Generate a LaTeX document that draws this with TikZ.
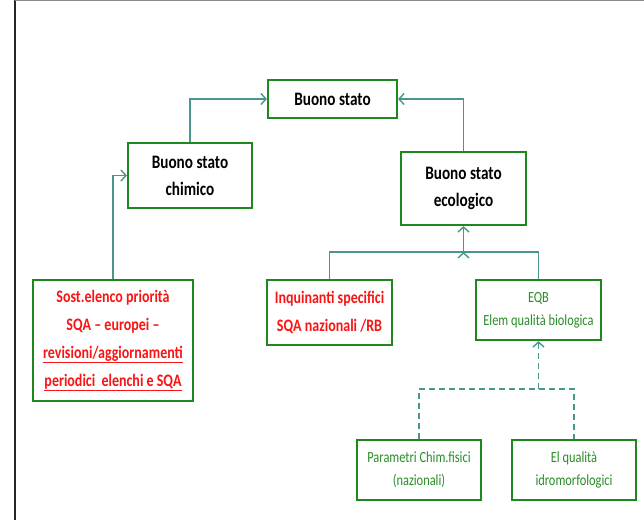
\documentclass[tikz,border=0pt]{standalone}
\usepackage{fontspec}
\setmainfont{Carlito}
\newfontfamily\narrowfont[FakeStretch=0.8,Ligatures=TeX]{Carlito}
\usepackage{tikz}
\usetikzlibrary{arrows,arrows.meta}

\definecolor{boxgreen}{RGB}{30,135,30}
\definecolor{linkteal}{RGB}{72,150,140}
\definecolor{txtred}{RGB}{250,20,20}
\definecolor{txtgreen}{RGB}{40,140,40}

\tikzset{
  box/.style={draw=boxgreen, line width=2.2pt, fill=white, align=center, inner sep=2pt},
  link/.style={draw=linkteal, line width=1.4pt},
  arr/.style={-{Straight Barb[length=5pt,width=11pt]}},
  boldtxt/.style={font=\narrowfont\fontsize{19}{27}\selectfont\bfseries},
  redtxt/.style={font=\narrowfont\fontsize{17.5}{28}\selectfont\bfseries, text=txtred},
  grntxt/.style={font=\narrowfont\fontsize{15.5}{23}\selectfont, text=txtgreen}
}

\begin{document}
\begin{tikzpicture}[x=1pt, y=-1pt]
  \useasboundingbox (0,0) rectangle (644,520);
  \draw[line width=1.2pt, black!85] (15,0) -- (15,520);
  \draw[line width=1pt, black!45] (15,0.5) -- (644,0.5);

  \node (top)  [box, boldtxt, minimum width=129pt, minimum height=38pt] at (332.5,99) {Buono stato};
  \node (chim) [box, boldtxt, minimum width=124pt, minimum height=65pt] at (190,175.5) {Buono stato\\chimico};
  \node (eco)  [box, boldtxt, minimum width=125pt, minimum height=73pt] at (463.5,188.5) {Buono stato\\ecologico};
  \node (sost) [box, redtxt, minimum width=160pt, minimum height=121pt] at (113,340.5)
    {Sost.elenco priorità\\SQA – europei –\\\underline{revisioni/aggiornamenti}\\\underline{periodici\ \ elenchi e SQA}};
  \node (inq)  [box, redtxt, minimum width=125pt, minimum height=65pt] at (329.5,312.5) {Inquinanti specifici\\SQA nazionali /RB};
  \node (eqb)  [box, grntxt, minimum width=125pt, minimum height=60pt] at (538.5,310) {EQB\\Elem qualità biologica};
  \node (par)  [box, grntxt, minimum width=124pt, minimum height=60pt] at (419,470) {Parametri Chim.fisici\\(nazionali)};
  \node (elq)  [box, grntxt, minimum width=124pt, minimum height=60pt] at (574,470) {El qualità\\idromorfologici};

  \coordinate (bus)  at (eco.south |- 0,252);
  \coordinate (dbus) at (eqb.south |- 0,389);

  \path[link, arr]
  (chim.north) edge [to path={|- (\tikztotarget)}] (top.west)
  (eco.north)  edge [to path={|- (\tikztotarget)}] (top.east)
  (sost.north) edge [to path={|- (\tikztotarget)}] (chim.west)
  (bus) edge (eco.south)
  ;
  \draw[link] (inq.north) |- (bus) -| (eqb.north);
  \draw[link, dashed, dash pattern=on 6pt off 4pt, arr] (dbus) -- (eqb.south);
  \draw[link, dashed, dash pattern=on 6pt off 4pt] (par.north) |- (dbus) -| (elq.north);
\end{tikzpicture}
\end{document}
